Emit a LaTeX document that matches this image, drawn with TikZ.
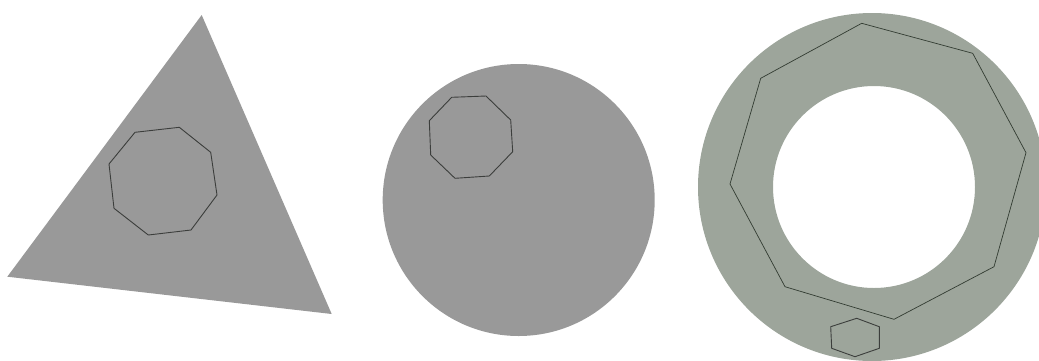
\documentclass[tikz,border=0pt]{standalone}
\begin{document}
\begin{tikzpicture}[x=1pt,y=-1pt,
  shapefill/.style={fill={rgb,255:red,153;green,153;blue,153}},
  ringfill/.style={fill={rgb,255:red,157;green,165;blue,155}},
  outline/.style={draw={rgb,255:red,60;green,62;blue,60},line width=0.9pt,line join=round},
  thinline/.style={draw={rgb,255:red,50;green,60;blue,50},line width=0.7pt,line join=round}]
\useasboundingbox (0,0) rectangle (1039,360);
\clip (0,0) rectangle (1039,360);
% triangle
\fill[shapefill] (201.7,15) -- (331.7,314) -- (7.3,276.7) -- cycle;
\draw[outline] (135,132.3) -- (179.3,127.3) -- (210.7,152.3) -- (217,195) -- (191,230) -- (148.3,235) -- (114,208.3) -- (109,164) -- cycle;
% circle
\fill[shapefill] (518.7,200) circle (136);
\draw[outline] (451.7,97.3) -- (486,96) -- (510.7,120) -- (512.7,151.7) -- (489.3,176) -- (455,178.3) -- (430.7,155) -- (429.3,120.7) -- cycle;
% ring
\fill[ringfill,even odd rule] (872,187) circle (174) (874,187) circle (101);
\draw[thinline] (861.7,23.3) -- (972.7,53.3) -- (1026,152.7) -- (994,266.7) -- (894,319.3) -- (785,286.7) -- (730,184) -- (760.7,78.3) -- cycle;
\draw[outline] (856.7,318.3) -- (879.3,326.7) -- (879.3,348.3) -- (855,356.7) -- (831.7,348.3) -- (830.7,326.7) -- cycle;
\end{tikzpicture}
\end{document}
